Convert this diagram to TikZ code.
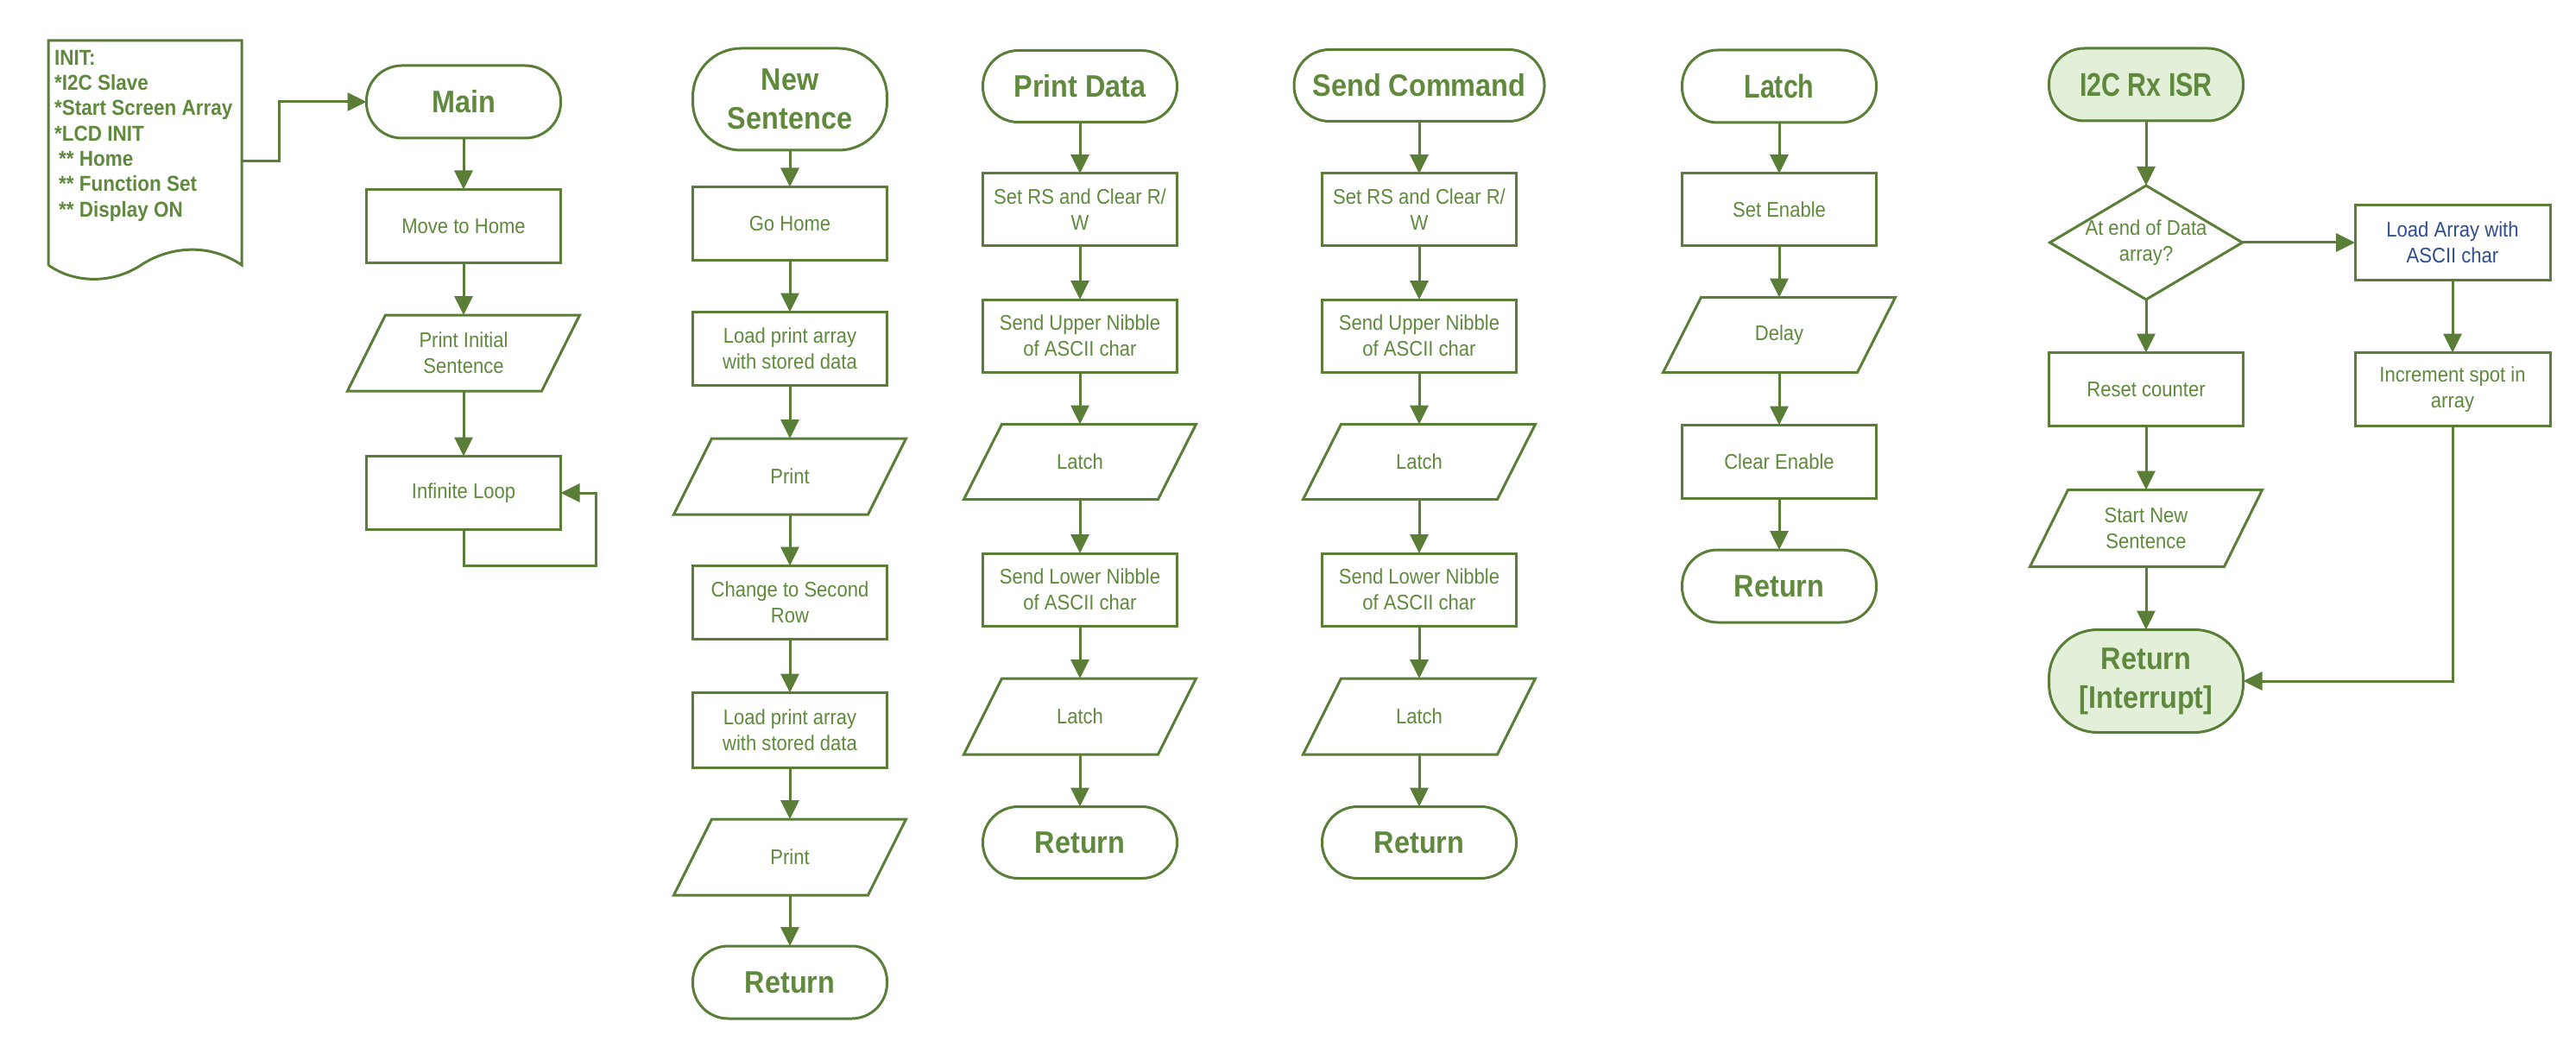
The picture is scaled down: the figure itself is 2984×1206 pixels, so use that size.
\documentclass[tikz,border=0pt]{standalone}
\usepackage{fontspec}
\setmainfont{Liberation Sans}[FakeStretch=0.9]
\newfontfamily\condfont{Liberation Sans}[FakeStretch=0.8]
\usetikzlibrary{arrows.meta}
\definecolor{gline}{HTML}{5A7E38}
\definecolor{gtext}{HTML}{5F8A3D}
\definecolor{gfill}{HTML}{E2EFD9}
\definecolor{btext}{HTML}{2F4E91}
\begin{document}
\begin{tikzpicture}[x=1pt,y=-1pt,
  line/.style={draw=gline, line width=3pt, line join=miter},
  arr/.style={draw=gline, line width=3pt, -{Triangle[length=22pt,width=21pt]}, fill=none},
  box/.style={draw=gline, line width=3pt, minimum width=225pt, minimum height=85pt, inner sep=2pt, outer sep=0pt, text=gtext, align=center, font=\fontsize{24.5}{30}\selectfont},
  term/.style={box, rounded corners=41pt, minimum height=84pt, font=\bfseries\fontsize{36}{45}\selectfont},
  shp/.style={inner sep=2pt, outer sep=0pt, minimum width=225pt, minimum height=88pt, text=gtext, align=center, font=\fontsize{24.5}{30}\selectfont},
  condtitle/.style={font=\condfont\bfseries\fontsize{38}{45}\selectfont},
]
\useasboundingbox (0,0) rectangle (2984,1206);
\fill[white] (0,0) rectangle (2984,1206);

% ---------- INIT document ----------
\draw[line] (56,307) -- (56,47) -- (280,47) -- (280,307)
  .. controls (240,280) and (195,287) .. (165,306)
  .. controls (130,330) and (85,328) .. (56,307);
\node[anchor=north west, inner sep=0pt, text=gtext, align=left,
      font=\bfseries\fontsize{25}{29.3}\selectfont] (inittext) at (63,58)
  {INIT:\\*I2C Slave\\*Start Screen Array\\*LCD INIT\\\hspace*{5pt}** Home\\\hspace*{5pt}** Function Set\\\hspace*{5pt}** Display ON};
\coordinate (initout) at (280,187);

% ---------- Main ----------
\node[term] (main) at (537,118) {Main};
\node[box] (move) at (537,262) {Move to Home};
\node[shp] (pis) at (537,409) {Print Initial\\Sentence};
\node[box] (loop) at (537,571) {Infinite Loop};

% ---------- New Sentence ----------
\node[term, rounded corners=56pt, minimum height=118pt] (ns) at (915,115) {New\\Sentence};
\node[box] (gohome) at (915,259) {Go Home};
\node[box] (load1) at (915,404) {Load print array\\with stored data};
\node[shp] (print1) at (915,552) {Print};
\node[box] (change) at (915,698) {Change to Second\\Row};
\node[box, minimum height=87pt] (load2) at (915,846) {Load print array\\with stored data};
\node[shp] (print2) at (915,993) {Print};
\node[term] (ret1) at (915,1138) {Return};

% ---------- Print Data ----------
\node[term, minimum height=83pt] (pd) at (1251,100) {Print Data};
\node[box, minimum height=84pt] (setrs1) at (1251,243) {Set RS and Clear R/\\W};
\node[box, minimum height=84pt] (upper1) at (1251,389) {Send Upper Nibble\\of ASCII char};
\node[shp, minimum height=87pt] (latch1) at (1251,535) {Latch};
\node[box, minimum height=84pt] (lower1) at (1251,683) {Send Lower Nibble\\of ASCII char};
\node[shp] (latch2) at (1251,830) {Latch};
\node[term, minimum height=83pt] (ret2) at (1251,976) {Return};

% ---------- Send Command ----------
\node[term, minimum height=83pt, minimum width=290pt] (sc) at (1644,99) {Send Command};
\node[box, minimum height=84pt] (setrs2) at (1644,243) {Set RS and Clear R/\\W};
\node[box, minimum height=84pt] (upper2) at (1644,389) {Send Upper Nibble\\of ASCII char};
\node[shp, minimum height=87pt] (latch3) at (1644,535) {Latch};
\node[box, minimum height=84pt] (lower2) at (1644,683) {Send Lower Nibble\\of ASCII char};
\node[shp] (latch4) at (1644,830) {Latch};
\node[term, minimum height=83pt] (ret3) at (1644,976) {Return};

% ---------- Latch ----------
\node[term, condtitle] (lt) at (2061,100) {Latch};
\node[box, minimum height=84pt] (seten) at (2061,243) {Set Enable};
\node[shp, minimum height=87pt] (delay) at (2061,388) {Delay};
\node[box] (clren) at (2061,535) {Clear Enable};
\node[term] (ret4) at (2061,679) {Return};

% ---------- I2C Rx ISR ----------
\node[term, condtitle, fill=gfill] (isr) at (2486,98) {I2C Rx ISR};
\node[shp, minimum width=223pt, minimum height=132pt] (dec) at (2486,281) {At end of Data\\array?};
\node[box] (reset) at (2486,451) {Reset counter};
\node[shp, minimum height=89pt] (snew) at (2486,612) {Start New\\Sentence};
\node[term, rounded corners=56pt, minimum height=119pt, fill=gfill] (reti) at (2486,789) {Return\\{[}Interrupt{]}};
\node[box, minimum width=226pt, minimum height=86pt, text=btext] (loadarr) at (2841,281) {Load Array with\\ASCII char};
\node[box, minimum width=226pt] (incr) at (2841,451) {Increment spot in\\array};

% ---------- parallelograms and diamond ----------
\foreach \n in {pis,print1,print2,latch1,latch2,latch3,latch4,delay,snew}
  \draw[line] ([xshift=-22pt]\n.south west) -- ([xshift=-22pt]\n.south east)
     -- ([xshift=22pt]\n.north east) -- ([xshift=22pt]\n.north west) -- cycle;
\draw[line] (dec.north) -- (dec.east) -- (dec.south) -- (dec.west) -- cycle;

% ---------- connectors ----------
\draw[arr] (initout) -- (323,187) |- (main.west);
\draw[arr] (main.south) -- (move.north);
\draw[arr] (move.south) -- (pis.north);
\draw[arr] (pis.south) -- (loop.north);
\draw[arr] (loop.south) -- ++(0,42) -| ([xshift=41pt]loop.east) -- (loop.east);

\draw[arr] (ns.south) -- (gohome.north);
\draw[arr] (gohome.south) -- (load1.north);
\draw[arr] (load1.south) -- (print1.north);
\draw[arr] (print1.south) -- (change.north);
\draw[arr] (change.south) -- (load2.north);
\draw[arr] (load2.south) -- (print2.north);
\draw[arr] (print2.south) -- (ret1.north);

\draw[arr] (pd.south) -- (setrs1.north);
\draw[arr] (setrs1.south) -- (upper1.north);
\draw[arr] (upper1.south) -- (latch1.north);
\draw[arr] (latch1.south) -- (lower1.north);
\draw[arr] (lower1.south) -- (latch2.north);
\draw[arr] (latch2.south) -- (ret2.north);

\draw[arr] (sc.south) -- (setrs2.north);
\draw[arr] (setrs2.south) -- (upper2.north);
\draw[arr] (upper2.south) -- (latch3.north);
\draw[arr] (latch3.south) -- (lower2.north);
\draw[arr] (lower2.south) -- (latch4.north);
\draw[arr] (latch4.south) -- (ret3.north);

\draw[arr] (lt.south) -- (seten.north);
\draw[arr] (seten.south) -- (delay.north);
\draw[arr] (delay.south) -- (clren.north);
\draw[arr] (clren.south) -- (ret4.north);

\draw[arr] (isr.south) -- (dec.north);
\draw[arr] (dec.south) -- (reset.north);
\draw[arr] (dec.east) -- (loadarr.west);
\draw[arr] (reset.south) -- (snew.north);
\draw[arr] (snew.south) -- (reti.north);
\draw[arr] (loadarr.south) -- (incr.north);
\draw[arr] (incr.south) |- (reti.east);
\end{tikzpicture}
\end{document}
